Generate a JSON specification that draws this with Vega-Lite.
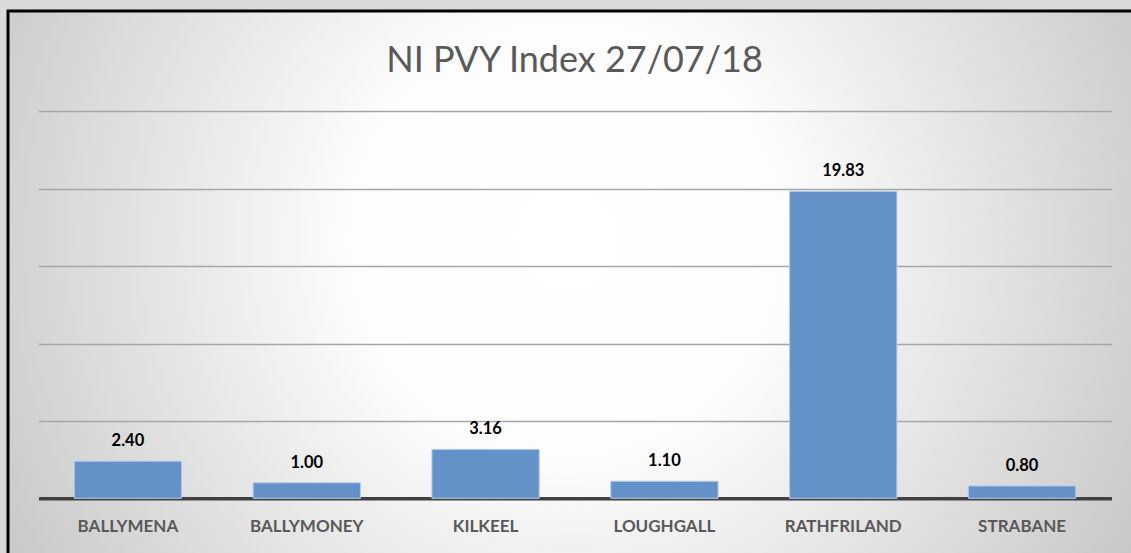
{
  "$schema": "https://vega.github.io/schema/vega-lite/v6.json",
  "width": 1125,
  "height": 545,
  "autosize": "none",
  "padding": {"left": 8, "top": 11, "right": -2, "bottom": -3},
  "background": "#d9d9d9",
  "title": {
    "text": "NI PVY Index 27/07/18",
    "font": "Lato",
    "fontSize": 36,
    "fontWeight": "normal",
    "color": "#595959",
    "anchor": "middle",
    "frame": "group",
    "baseline": "alphabetic",
    "offset": -97,
    "dx": 4
  },
  "data": {
    "values": [
      {"site": "BALLYMENA", "value": 2.40},
      {"site": "BALLYMONEY", "value": 1.00},
      {"site": "KILKEEL", "value": 3.16},
      {"site": "LOUGHGALL", "value": 1.10},
      {"site": "RATHFRILAND", "value": 19.83},
      {"site": "STRABANE", "value": 0.80}
    ]
  },
  "encoding": {
    "x": {
      "field": "site",
      "type": "nominal",
      "sort": null,
      "scale": {"type": "band", "range": [30.5, 1103.5], "paddingInner": 0.4, "paddingOuter": 0.2},
      "axis": {
        "title": null,
        "orient": "bottom",
        "offset": -57.7,
        "labelAngle": 0,
        "labelFont": "Lato",
        "labelFontWeight": "bold",
        "labelFontSize": 17,
        "labelColor": "#595959",
        "labelPadding": 20,
        "ticks": false,
        "tickSize": 0,
        "domainColor": "#404040",
        "domainWidth": 3.5,
        "grid": false
      }
    },
    "y": {
      "field": "value",
      "type": "quantitative",
      "scale": {"domain": [0, 25], "range": [487.3, 100.3], "nice": false, "zero": true},
      "axis": {
        "title": null,
        "labels": false,
        "ticks": false,
        "domain": false,
        "grid": true,
        "gridColor": "#a6a6a6",
        "gridWidth": 1.3,
        "values": [5, 10, 15, 20, 25]
      }
    }
  },
  "layer": [
    {
      "mark": {"type": "bar", "fill": "#6391c8", "stroke": "#b4cce8", "strokeWidth": 1}
    },
    {
      "mark": {
        "type": "text",
        "font": "Lato",
        "fontWeight": "bold",
        "fontSize": 16.5,
        "fill": "#000000",
        "baseline": "alphabetic",
        "align": "center",
        "dy": -15
      },
      "encoding": {
        "text": {"field": "value", "type": "quantitative", "format": ".2f"}
      }
    }
  ],
  "config": {
    "view": {
      "fill": {
        "gradient": "radial",
        "x1": 0.496, "y1": 0.46, "r1": 0,
        "x2": 0.496, "y2": 0.46, "r2": 0.66,
        "stops": [
          {"offset": 0, "color": "#ffffff"},
          {"offset": 0.3, "color": "#fcfcfc"},
          {"offset": 1, "color": "#bcbcbc"}
        ]
      },
      "stroke": "#000000",
      "strokeWidth": 3
    }
  }
}
